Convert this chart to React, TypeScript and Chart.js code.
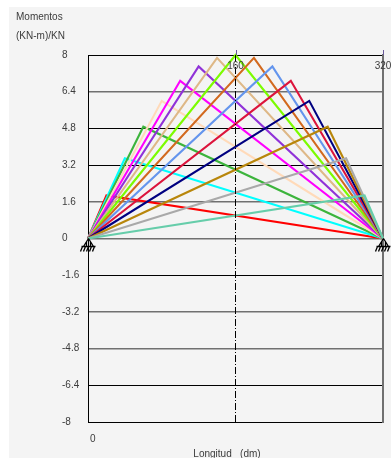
import React, { useEffect, useRef } from "react";
import { Chart, registerables } from "chart.js";

Chart.register(...registerables);

const span = 320;
const peakPositions = [20, 40, 60, 80, 100, 120, 140, 160, 180, 200, 220, 240, 260, 280, 300];
const peakMoments = [1.875, 3.5, 4.875, 6, 6.875, 7.5, 7.875, 8, 7.875, 7.5, 6.875, 6, 4.875, 3.5, 1.875];
const lineColors = [
  "#ff0000", "#00ffff", "#3cb43c", "#ffdab9", "#ff00ff", "#9032d8", "#deb887", "#7cfc00",
  "#d2691e", "#6495ed", "#dc143c", "#000080", "#b8860b", "#a9a9a9", "#66cdaa",
];
const yTicks = [8, 6.4, 4.8, 3.2, 1.6, 0, -1.6, -3.2, -4.8, -6.4, -8];
const softGridTicks = [6.4, 1.6, 0, -3.2, -4.8];
const topLabels = [160, 320];

const FONT = "10px 'Liberation Sans', Arial, sans-serif";
const TEXT = "#3c3c3c";

const overlay = {
  id: "overlay",
  afterDatasetsDraw(chart: any) {
    const { ctx, scales } = chart;
    const x = scales.x;
    const y = scales.y;
    ctx.save();
    ctx.font = FONT;
    ctx.fillStyle = TEXT;
    ctx.textBaseline = "middle";
    ctx.textAlign = "left";
    ctx.fillText("Momentos", 16, 17);
    ctx.fillText("(KN-m)/KN", 16, 36);
    ctx.fillText("0", x.getPixelForValue(0) + 2, 439);
    ctx.textAlign = "center";
    ctx.fillText("Longitud   (dm)", 227, 454);
    topLabels.forEach((v) => {
      const px = x.getPixelForValue(v);
      ctx.fillText(String(v), px, 66);
      ctx.strokeStyle = "#6a5a9a";
      ctx.lineWidth = 1;
      ctx.beginPath();
      ctx.moveTo(Math.round(px) + 0.5, y.top - 5);
      ctx.lineTo(Math.round(px) + 0.5, y.top);
      ctx.stroke();
    });
    // pinned supports at both ends of the span
    [0, span].forEach((v) => {
      const px = Math.round(x.getPixelForValue(v)) + 0.5;
      const py = y.getPixelForValue(0);
      ctx.strokeStyle = "#000";
      ctx.lineWidth = 1.3;
      ctx.beginPath();
      ctx.moveTo(px, py);
      ctx.lineTo(px - 5, py + 8);
      ctx.moveTo(px, py);
      ctx.lineTo(px + 5, py + 8);
      ctx.moveTo(px - 2, py + 3);
      ctx.lineTo(px - 2, py + 8);
      ctx.moveTo(px + 2, py + 3);
      ctx.lineTo(px + 2, py + 8);
      ctx.moveTo(px - 7, py + 8);
      ctx.lineTo(px + 7, py + 8);
      for (let i = -6; i <= 6; i += 3) {
        ctx.moveTo(px + i, py + 8);
        ctx.lineTo(px + i - 2, py + 13);
      }
      ctx.stroke();
    });
    ctx.restore();
  },
};

export default function App() {
  const ref = useRef<HTMLCanvasElement>(null);
  useEffect(() => {
    const datasets: any[] = peakPositions.map((p, i) => ({
      label: `P${p}`,
      data: [
        { x: 0, y: 0 },
        { x: p, y: peakMoments[i] },
        { x: span, y: 0 },
      ],
      borderColor: lineColors[i],
      borderWidth: 2.1,
      pointRadius: 0,
      showLine: true,
      tension: 0,
      fill: false,
      clip: false,
      order: peakPositions.length - i,
    }));
    datasets.push({
      label: "centre",
      data: [
        { x: span / 2, y: 8 },
        { x: span / 2, y: -8 },
      ],
      borderColor: "#000",
      borderWidth: 1,
      borderDash: [7, 2, 1, 2],
      pointRadius: 0,
      showLine: true,
      order: 0,
    });
    const chart = new Chart(ref.current!, {
      type: "scatter",
      data: { datasets },
      plugins: [overlay],
      options: {
        animation: false,
        responsive: false,
        layout: { padding: { left: 62, top: 55, right: 8, bottom: 36 } },
        plugins: { legend: { display: false }, tooltip: { enabled: false }, title: { display: false } },
        scales: {
          x: {
            type: "linear",
            min: 0,
            max: span,
            border: { display: false },
            grid: { display: false },
            ticks: { display: false },
            afterFit(s: any) {
              s.height = 0;
            },
          },
          y: {
            type: "linear",
            min: -8,
            max: 8,
            border: { display: true, color: "#000", width: 1 },
            afterBuildTicks(s: any) {
              s.ticks = yTicks.map((value) => ({ value }));
            },
            afterFit(s: any) {
              s.width = 26;
            },
            grid: {
              drawTicks: false,
              color: (c: any) => (softGridTicks.includes(c.tick?.value) ? "#707070" : "#000"),
              lineWidth: (c: any) => (softGridTicks.includes(c.tick?.value) ? 1.6 : 1),
            },
            ticks: {
              crossAlign: "far",
              autoSkip: false,
              padding: 0,
              color: TEXT,
              font: { family: "'Liberation Sans', Arial, sans-serif", size: 10 },
              callback: (v: any) => String(v),
            },
          },
          right: {
            type: "linear",
            position: "right",
            min: -8,
            max: 8,
            border: { display: true, color: "#707070", width: 2 },
            grid: { display: false },
            ticks: { display: false },
            afterFit(s: any) {
              s.width = 0;
            },
          },
        },
      } as any,
    });
    return () => chart.destroy();
  }, []);
  return (
    <div style={{ position: "fixed", left: 0, top: 0, width: 391, height: 458, background: "#fff", overflow: "hidden" }}>
      <div style={{ position: "absolute", left: 9, top: 7, right: 0, bottom: 0, background: "#f4f4f4" }} />
      <canvas ref={ref} width={391} height={458} style={{ position: "absolute", left: 0, top: 0, display: "block" }} />
    </div>
  );
}
